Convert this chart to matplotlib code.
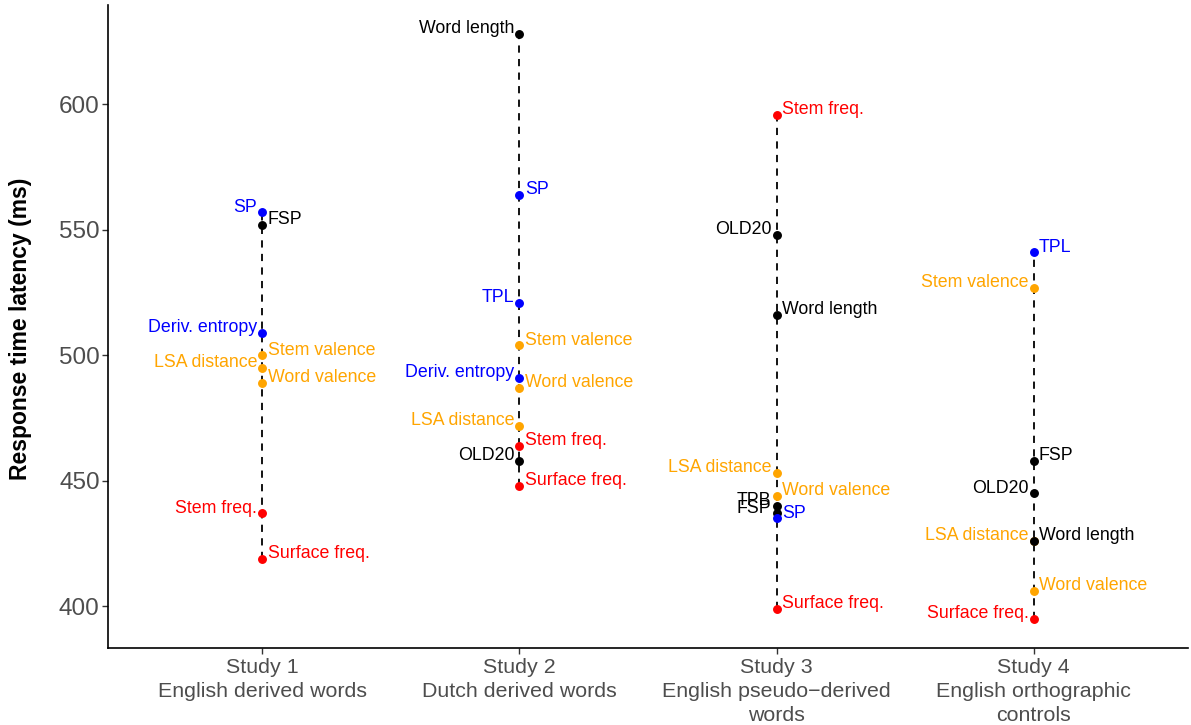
import matplotlib
matplotlib.use("Agg")
import matplotlib.pyplot as plt

plt.rcParams['font.family'] = ['Liberation Sans', 'DejaVu Sans']

studies = ["Study 1\nEnglish derived words",
           "Study 2\nDutch derived words",
           "Study 3\nEnglish pseudo\u2212derived\nwords",
           "Study 4\nEnglish orthographic\ncontrols"]

s1_names = ["SP", "FSP", "Deriv. entropy", "Stem valence", "LSA distance",
            "Word valence", "Stem freq.", "Surface freq."]
s1_values = [557, 552, 509, 500, 495, 489, 437, 419]

s2_names = ["Word length", "SP", "TPL", "Stem valence", "Deriv. entropy",
            "Word valence", "LSA distance", "Stem freq.", "OLD20", "Surface freq."]
s2_values = [628, 564, 521, 504, 491, 487, 472, 464, 458, 448]

s3_names = ["Stem freq.", "OLD20", "Word length", "LSA distance", "Word valence",
            "TPB", "FSP", "SP", "Surface freq."]
s3_values = [596, 548, 516, 453, 444, 440, 437, 435, 399]

s4_names = ["TPL", "Stem valence", "FSP", "OLD20", "LSA distance", "Word length",
            "Word valence", "Surface freq."]
s4_values = [541, 527, 458, 445, 426, 426, 406, 395]

# label side: -1 = left of point, +1 = right of point
s1_sides = [-1, 1, -1, 1, -1, 1, -1, 1]
s2_sides = [-1, 1, -1, 1, -1, 1, -1, 1, -1, 1]
s3_sides = [1, -1, 1, -1, 1, -1, -1, 1, 1]
s4_sides = [1, -1, 1, -1, -1, 1, 1, -1]

group_colors = {
    "Stem freq.": "#FF0000", "Surface freq.": "#FF0000",
    "Stem valence": "#FFA500", "Word valence": "#FFA500", "LSA distance": "#FFA500",
    "SP": "#0000FF", "TPL": "#0000FF", "Deriv. entropy": "#0000FF",
    "FSP": "#000000", "OLD20": "#000000", "Word length": "#000000", "TPB": "#000000",
}

all_names = [s1_names, s2_names, s3_names, s4_names]
all_values = [s1_values, s2_values, s3_values, s4_values]
all_sides = [s1_sides, s2_sides, s3_sides, s4_sides]

fig = plt.figure(figsize=(11.91, 7.25), dpi=100)
ax = fig.add_axes([108/1191, 1-648/725, (1188-108)/1191, (648-5)/725])

for i, (names, vals, sides) in enumerate(zip(all_names, all_values, all_sides)):
    x = i + 1
    ax.plot([x, x], [min(vals), max(vals)], color="black", lw=1.3,
            linestyle=(0, (4, 3.5)), zorder=1)
    for n, v, s in zip(names, vals, sides):
        c = group_colors[n]
        ax.plot([x], [v], "o", color=c, markersize=5.4,
                zorder=3 if n == "Word length" else 2)
        ax.annotate(n, (x, v), xytext=(3.8 * s, 3.8), textcoords="offset points",
                    ha="left" if s > 0 else "right", va="center",
                    color=c, fontsize=12.8)

ax.set_xlim(0.4, 4.6)
lo = 395; hi = 628
ax.set_ylim(lo - 0.05 * (hi - lo), hi + 0.05 * (hi - lo))
ax.set_xticks([1, 2, 3, 4])
ax.set_xticklabels(studies, fontsize=15.4, color="#4D4D4D", linespacing=1.33)
ax.set_yticks([400, 450, 500, 550, 600])
ax.tick_params(axis="y", labelsize=17.5, labelcolor="#4D4D4D", color="#333333",
               length=4, width=1, pad=2)
ax.tick_params(axis="x", color="#333333", length=4, width=1, pad=3)
for sp in ["top", "right"]:
    ax.spines[sp].set_visible(False)
for sp in ["left", "bottom"]:
    ax.spines[sp].set_linewidth(1.2)
ax.set_ylabel("Response time latency (ms)", fontsize=16.5, fontweight="bold")
ax.yaxis.set_label_coords(-0.07, 0.497)

fig.savefig("out.png", dpi=100)
